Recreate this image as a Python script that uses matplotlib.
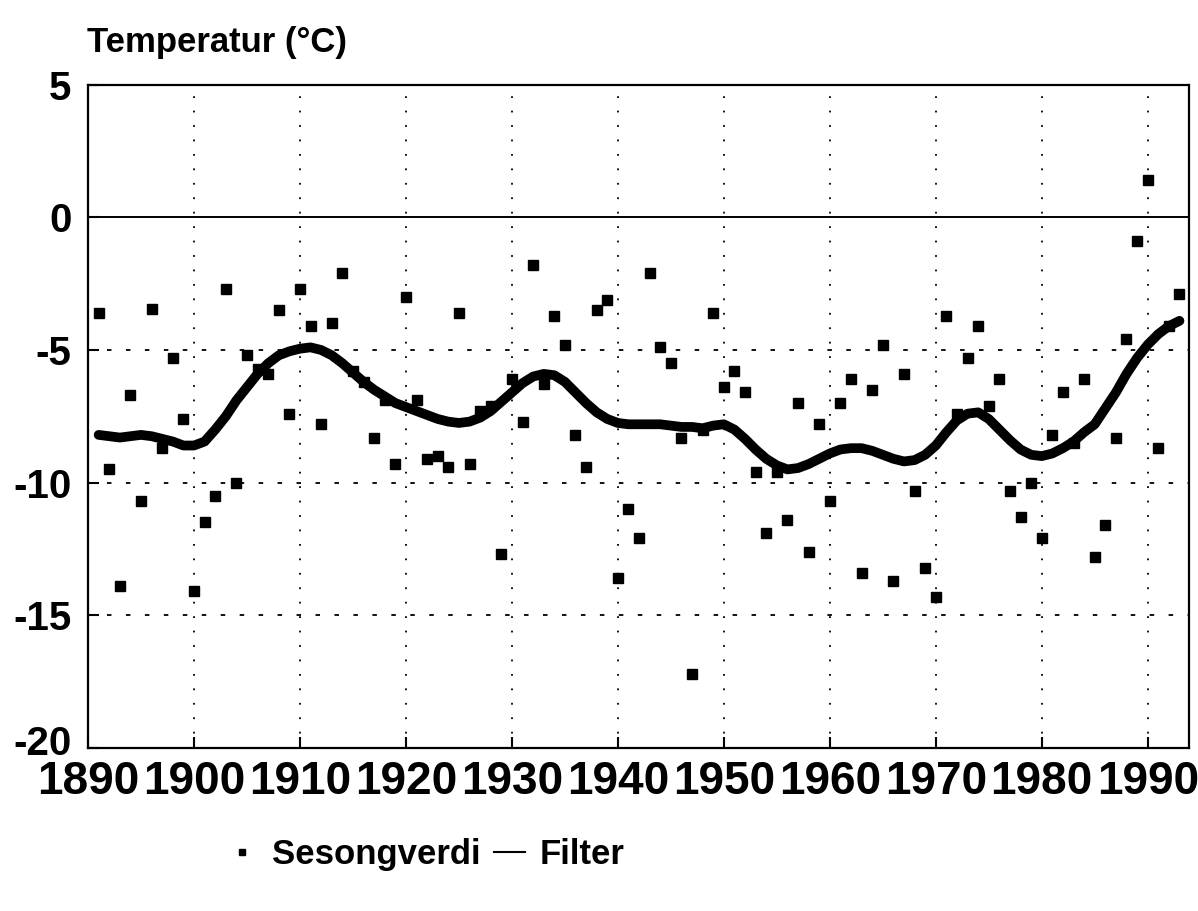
import matplotlib
matplotlib.use('Agg')
import matplotlib.pyplot as plt
from matplotlib.lines import Line2D
from matplotlib.transforms import ScaledTranslation
import numpy as np

plt.rcParams['font.family'] = ['Liberation Sans', 'DejaVu Sans']
plt.rcParams['font.weight'] = 'bold'
plt.rcParams['axes.unicode_minus'] = False

# seasonal values (Sesongverdi), one per year
years = np.arange(1891, 1994)
season = [
    -3.6, -9.5, -13.9, -6.7, -10.7, -3.45, -8.7, -5.3, -7.6, -14.1,   # 1891-1900
    -11.5, -10.5, -2.7, -10.0, -5.2, -5.7, -5.9, -3.5, -7.4, -2.7,    # 1901-1910
    -4.1, -7.8, -4.0, -2.1, -5.8, -6.2, -8.3, -6.9, -9.3, -3.0,       # 1911-1920
    -6.9, -9.1, -9.0, -9.4, -3.6, -9.3, -7.3, -7.1, -12.7, -6.1,      # 1921-1930
    -7.7, -1.8, -6.3, -3.7, -4.8, -8.2, -9.4, -3.5, -3.1, -13.6,      # 1931-1940
    -11.0, -12.1, -2.1, -4.9, -5.5, -8.3, -17.2, -8.0, -3.6, -6.4,    # 1941-1950
    -5.8, -6.6, -9.6, -11.9, -9.6, -11.4, -7.0, -12.6, -7.8, -10.7,   # 1951-1960
    -7.0, -6.1, -13.4, -6.5, -4.8, -13.7, -5.9, -10.3, -13.2, -14.3,  # 1961-1970
    -3.7, -7.4, -5.3, -4.1, -7.1, -6.1, -10.3, -11.3, -10.0, -12.1,   # 1971-1980
    -8.2, -6.6, -8.5, -6.1, -12.8, -11.6, -8.3, -4.6, -0.9, 1.4,      # 1981-1990
    -8.7, -4.1, -2.9,                                                  # 1991-1993
]

# smoothed filter curve, read per year
filt = [
    -8.2, -8.25, -8.3, -8.25, -8.2, -8.25, -8.35, -8.45, -8.6,        # 1891-1899
    -8.6, -8.45, -8.0, -7.5, -6.9, -6.4, -5.9, -5.5, -5.2, -5.05,     # 1900-1909
    -4.95, -4.9, -5.0, -5.2, -5.5, -5.85, -6.2, -6.5, -6.75, -7.0,    # 1910-1919
    -7.15, -7.3, -7.45, -7.6, -7.7, -7.75, -7.7, -7.55, -7.3, -6.95,  # 1920-1929
    -6.6, -6.25, -6.0, -5.9, -5.95, -6.2, -6.6, -7.0, -7.35, -7.6,    # 1930-1939
    -7.75, -7.8, -7.8, -7.8, -7.8, -7.85, -7.9, -7.9, -7.95, -7.85,   # 1940-1949
    -7.8, -8.0, -8.35, -8.75, -9.1, -9.35, -9.5, -9.45, -9.3, -9.1,   # 1950-1959
    -8.9, -8.75, -8.7, -8.7, -8.8, -8.95, -9.1, -9.2, -9.15, -8.95,   # 1960-1969
    -8.6, -8.1, -7.65, -7.4, -7.35, -7.6, -8.0, -8.4, -8.75, -8.95,   # 1970-1979
    -9.0, -8.9, -8.7, -8.45, -8.1, -7.8, -7.2, -6.6, -5.9, -5.3,      # 1980-1989
    -4.8, -4.4, -4.1, -3.9,                                           # 1990-1993
]

xticks = list(range(1890, 2000, 10))
yticks = [5, 0, -5, -10, -15, -20]

fig = plt.figure(figsize=(11.98, 9.11), dpi=100)
ax = fig.add_axes([0.0735, 0.179, 0.919, 0.728])

ax.plot(years, season, 's', color='black', markersize=7, zorder=3)
ax.plot(years, filt, '-', color='black', linewidth=7, solid_capstyle='round', zorder=4)

ax.set_xlim(1890, 1993.9)
ax.set_ylim(-20, 5)

# grid: dotted verticals, dashed horizontals, solid zero line
for x in xticks[1:]:
    ax.axvline(x, color='black', linewidth=1.3, linestyle=(0, (1, 7)), zorder=1)
for y in [-5, -10, -15]:
    ax.axhline(y, color='black', linewidth=1.3, linestyle=(0, (2.5, 8)), zorder=1)
ax.axhline(0, color='black', linewidth=1.4, zorder=1)

ax.set_xticks(xticks)
ax.set_yticks(yticks)
ax.tick_params(axis='x', direction='in', length=8, width=1.5, labelsize=33, pad=9)
ax.tick_params(axis='y', direction='in', length=8, width=1.5, labelsize=29, pad=12)
for lab in ax.get_xticklabels() + ax.get_yticklabels():
    lab.set_fontweight('bold')
# lift the bottom y label a little so it clears "1890"
bottom_lab = ax.get_yticklabels()[-1]
bottom_lab.set_transform(bottom_lab.get_transform() + ScaledTranslation(0, 6 / 72, fig.dpi_scale_trans))
for sp in ax.spines.values():
    sp.set_linewidth(1.6)

fig.text(0.073, 0.953, 'Temperatur (°C)', fontsize=25, fontweight='bold',
         ha='left', va='center')

handles = [
    Line2D([], [], marker='s', linestyle='none', color='black', markersize=4),
    Line2D([], [], linestyle='-', color='black', linewidth=1.5),
]
fig.legend(handles, ['Sesongverdi', 'Filter'], loc='center', bbox_to_anchor=(0.355, 0.062),
           ncol=2, frameon=False, prop={'size': 25, 'weight': 'bold'},
           handlelength=0.9, handletextpad=0.4, columnspacing=0.4)

fig.savefig('out.png', dpi=100)
